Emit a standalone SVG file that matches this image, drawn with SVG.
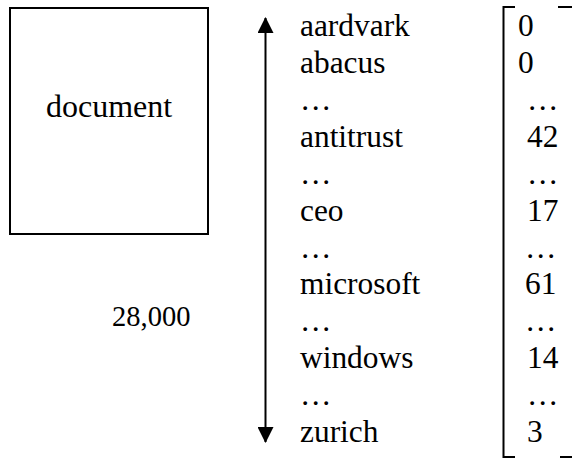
<svg xmlns="http://www.w3.org/2000/svg" width="574" height="460" viewBox="0 0 574 460" font-family="Liberation Serif, Times New Roman, DejaVu Serif, serif" font-size="31">
<style>
text { font-family: 'Liberation Serif', 'Times New Roman', 'DejaVu Serif', serif; font-size: 31.4px; fill: #000; }
.ln { stroke: #000; stroke-width: 2; fill: none; }
</style>
<defs>
<marker id="ah" viewBox="0 0 16 16" refX="15" refY="8" markerWidth="16" markerHeight="16" markerUnits="userSpaceOnUse" orient="auto-start-reverse">
<path d="M0,0 L16,8 L0,16 Z" fill="#000"/>
</marker>
</defs>
<g id="document">
<rect x="10" y="8" width="198" height="226" class="ln"/>
<text x="46" y="117" style="font-size:32px">document</text>
</g>
<g id="count">
<text x="112" y="326" style="font-size:28.5px">28,000</text>
</g>
<g id="connectors">
<line x1="265.5" y1="18" x2="265.5" y2="442" class="ln" marker-start="url(#ah)" marker-end="url(#ah)"/>
</g>
<g id="terms">
<text x="300" y="36">aardvark</text>
<text x="300" y="73">abacus</text>
<text x="300" y="110">…</text>
<text x="300" y="147">antitrust</text>
<text x="300" y="184">…</text>
<text x="300" y="220.5">ceo</text>
<text x="300" y="257.5">…</text>
<text x="300" y="294">microsoft</text>
<text x="300" y="331">…</text>
<text x="300" y="368">windows</text>
<text x="300" y="405">…</text>
<text x="300" y="442">zurich</text>
</g>
<g id="vector">
<path d="M515,7 H503.5 V457 H515 M558,7 H572 M560,457 H572" class="ln"/>
<text x="518" y="36">0</text>
<text x="518" y="73">0</text>
<text x="527" y="110">…</text>
<text x="527" y="147">42</text>
<text x="527" y="184">…</text>
<text x="527" y="220.5">17</text>
<text x="525" y="257.5">…</text>
<text x="525" y="294">61</text>
<text x="525" y="331">…</text>
<text x="527" y="368">14</text>
<text x="527" y="405">…</text>
<text x="527" y="442">3</text>
</g>
</svg>
